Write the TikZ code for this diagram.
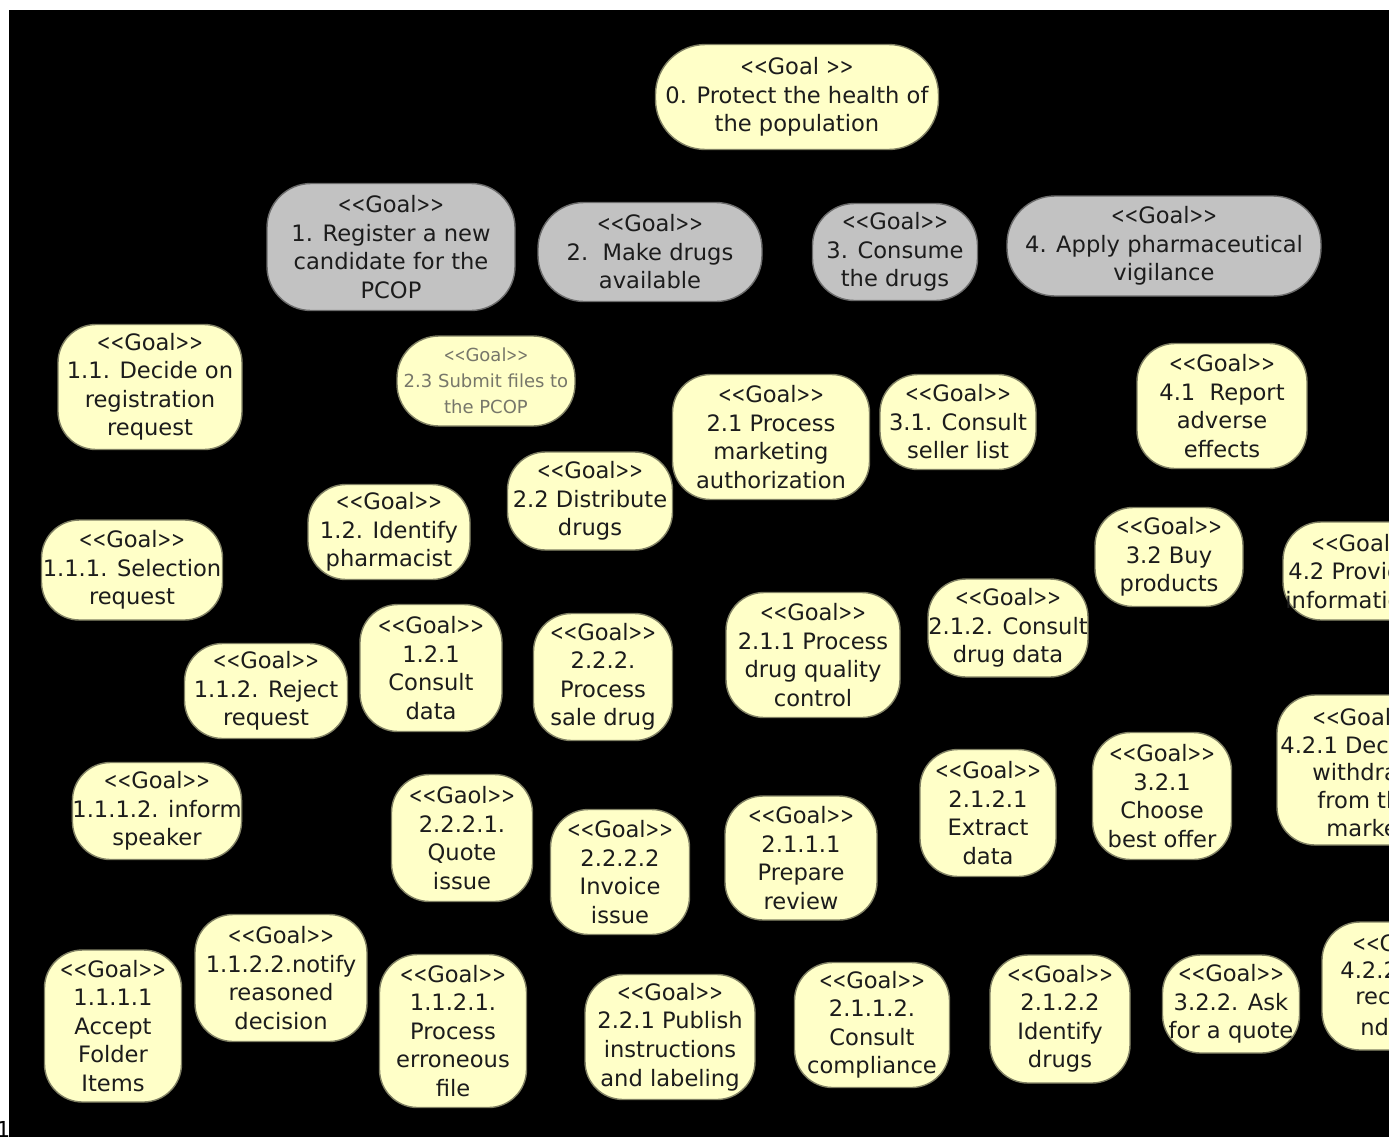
\documentclass[tikz,border=0pt]{standalone}
\usepackage{fontspec}
\setmainfont{DejaVu Sans}[Ligatures=TeXOff]
\newfontfamily\narrowbr{DejaVu Sans}[Ligatures=TeXOff, FakeStretch=0.72]
\definecolor{goalfill}{HTML}{FFFFC8}
\definecolor{topfill}{HTML}{C2C2C2}
\definecolor{goaltext}{HTML}{1C1C1C}
\definecolor{faded}{HTML}{77776A}
% stereotype label such as <<Goal>>, with narrow guillemet-like brackets
\newcommand{\stereo}[1]{{\narrowbr<\kern0pt<}#1{\narrowbr>\kern0pt>}}
\tikzset{
  goal/.style={draw=goalfill!50!black, line width=0.7pt, fill=goalfill,
    rounded corners=19pt, align=center, inner sep=0pt, text=goaltext,
    font=\fontsize{11.3}{14.25}\selectfont},
  topgoal/.style={goal, fill=topfill, draw=topfill!55!black, rounded corners=23pt},
  sz/.style 2 args={minimum width=#1, minimum height=#2},
  cutline/.style={anchor=west, inner sep=0pt, text=goaltext,
    font=\fontsize{11.3}{14.25}\selectfont}
}
\begin{document}
\begin{tikzpicture}[x=0.5pt,y=-0.5pt]
\useasboundingbox (0,0) rectangle (1389,1137);
\fill[white] (0,0) rectangle (1389,1137);
\fill[black] (9,10) rectangle (1389,1137);
\node[anchor=south west, inner sep=0pt, font=\fontsize{11}{11}\selectfont] (pagemark) at (-4,1138) {1};
\begin{scope}
\clip (0,0) rectangle (1389,1137);

% root goal
\node[goal, rounded corners=25pt, sz={141.5pt}{52.5pt}] (g0) at (797,97)
  {\stereo{Goal }\\0. Protect the health of\\the population};

% first level
\node[topgoal, rounded corners=22pt, sz={124pt}{63.5pt}] (g1) at (391,247)
  {\stereo{Goal}\\1. Register a new\\candidate for the\\PCOP};
\node[topgoal, sz={112pt}{49.5pt}] (g2) at (650,252)
  {\stereo{Goal}\\2.\ \ Make drugs\\available};
\node[topgoal, rounded corners=21pt, sz={82.5pt}{48.5pt}] (g3) at (895,252)
  {\stereo{Goal}\\3. Consume\\the drugs};
\node[topgoal, rounded corners=24pt, sz={157pt}{50pt}] (g4) at (1164,246)
  {\stereo{Goal}\\4. Apply pharmaceutical\\vigilance};

% second level
\node[goal, sz={92pt}{62.5pt}] (g11) at (150,387)
  {\stereo{Goal}\\1.1. Decide on\\registration\\request};
\node[goal, text=faded, font=\fontsize{9}{13}\selectfont, rounded corners=21pt, sz={89pt}{45pt}] (g23) at (486,381)
  {\stereo{Goal}\\2.3 Submit files to\\the PCOP};
\node[goal, sz={98.5pt}{62.5pt}] (g21) at (771,437)
  {\stereo{Goal}\\2.1 Process\\marketing\\authorization};
\node[goal, sz={78pt}{47.5pt}] (g31) at (958,422)
  {\stereo{Goal}\\3.1. Consult\\seller list};
\node[goal, sz={85pt}{62.5pt}] (g41) at (1222,406)
  {\stereo{Goal}\\4.1\ \ Report\\adverse\\effects};
\node[goal, sz={82.5pt}{49pt}] (g22) at (590,501)
  {\stereo{Goal}\\2.2 Distribute\\drugs};
\node[goal, sz={81pt}{47.5pt}] (g12) at (389,532)
  {\stereo{Goal}\\1.2. Identify\\pharmacist};
\node[goal, sz={74pt}{49.5pt}] (g32) at (1169,557)
  {\stereo{Goal}\\3.2 Buy\\products};

% third level
\node[goal, sz={90.5pt}{50pt}] (g111) at (132,570)
  {\stereo{Goal}\\1.1.1. Selection\\request};
\node[goal, sz={81.5pt}{47.5pt}] (g112) at (266,691)
  {\stereo{Goal}\\1.1.2. Reject\\request};
\node[goal, sz={71pt}{63.5pt}] (g121) at (431,668)
  {\stereo{Goal}\\1.2.1\\Consult\\data};
\node[goal, sz={69.5pt}{63.5pt}] (g222) at (603,677)
  {\stereo{Goal}\\2.2.2.\\Process\\sale drug};
\node[goal, sz={87pt}{62.5pt}] (g211) at (813,655)
  {\stereo{Goal}\\2.1.1 Process\\drug quality\\control};
\node[goal, sz={80pt}{49pt}] (g212) at (1008,628)
  {\stereo{Goal}\\2.1.2. Consult\\drug data};
\node[goal, sz={69.5pt}{63.5pt}] (g321) at (1162,796)
  {\stereo{Goal}\\3.2.1\\Choose\\best offer};
\node[goal, sz={68.5pt}{49pt}] (g322) at (1231,1004)
  {\stereo{Goal}\\3.2.2. Ask\\for a quote};

% fourth level
\node[goal, sz={82.5pt}{48.5pt}] (g1112) at (157,811)
  {\stereo{Goal}\\1.1.1.2. inform\\speaker};
\node[goal, sz={70.5pt}{63.5pt}] (g2221) at (462,838)
  {\stereo{Gaol}\\2.2.2.1.\\Quote\\issue};
\node[goal, sz={69.5pt}{62.5pt}] (g2222) at (620,872)
  {\stereo{Goal}\\2.2.2.2\\Invoice\\issue};
\node[goal, sz={76pt}{62pt}] (g2111) at (801,858)
  {\stereo{Goal}\\2.1.1.1\\Prepare\\review};
\node[goal, sz={68pt}{63.5pt}] (g2121) at (988,813)
  {\stereo{Goal}\\2.1.2.1\\Extract\\data};
\node[goal, sz={68.5pt}{76pt}] (g1111) at (113,1026)
  {\stereo{Goal}\\1.1.1.1\\Accept\\Folder\\Items};
\node[goal, sz={86pt}{63.5pt}] (g1122) at (281,978)
  {\stereo{Goal}\\1.1.2.2.notify\\reasoned\\decision};
\node[goal, sz={73.5pt}{76.5pt}] (g1121) at (453,1031)
  {\stereo{Goal}\\1.1.2.1.\\Process\\erroneous\\file};
\node[goal, sz={85pt}{62.5pt}] (g221) at (670,1037)
  {\stereo{Goal}\\2.2.1 Publish\\instructions\\and labeling};
\node[goal, sz={77.5pt}{62.5pt}] (g2112) at (872,1025)
  {\stereo{Goal}\\2.1.1.2.\\Consult\\compliance};
\node[goal, sz={70pt}{64pt}] (g2122) at (1060,1019)
  {\stereo{Goal}\\2.1.2.2\\Identify\\drugs};

% goals running past the right border
\node[goal, sz={80pt}{49pt}] (g42) at (1363,571) {};
\node[cutline] (g42a) at (1311,543) {\stereo{Goal}};
\node[cutline] (g42b) at (1288,571) {4.2 Provide};
\node[cutline] (g42c) at (1285,600) {information};

\node[goal, sz={90pt}{75pt}] (g421) at (1367,770) {};
\node[cutline] (g421a) at (1312,717) {\stereo{Goal}};
\node[cutline] (g421b) at (1280,745) {4.2.1 Decide};
\node[cutline] (g421c) at (1312,772) {withdrawal};
\node[cutline] (g421d) at (1317,800) {from the};
\node[cutline] (g421e) at (1326,828) {market};

\node[goal, sz={80pt}{64pt}] (g422) at (1402,986) {};
\node[cutline] (g422a) at (1352,943) {\stereo{Goal}};
\node[cutline] (g422b) at (1340,970) {4.2.2 Issue};
\node[cutline] (g422c) at (1355,998) {recomme};
\node[cutline] (g422d) at (1360,1027) {ndations};
\end{scope}
\end{tikzpicture}
\end{document}
